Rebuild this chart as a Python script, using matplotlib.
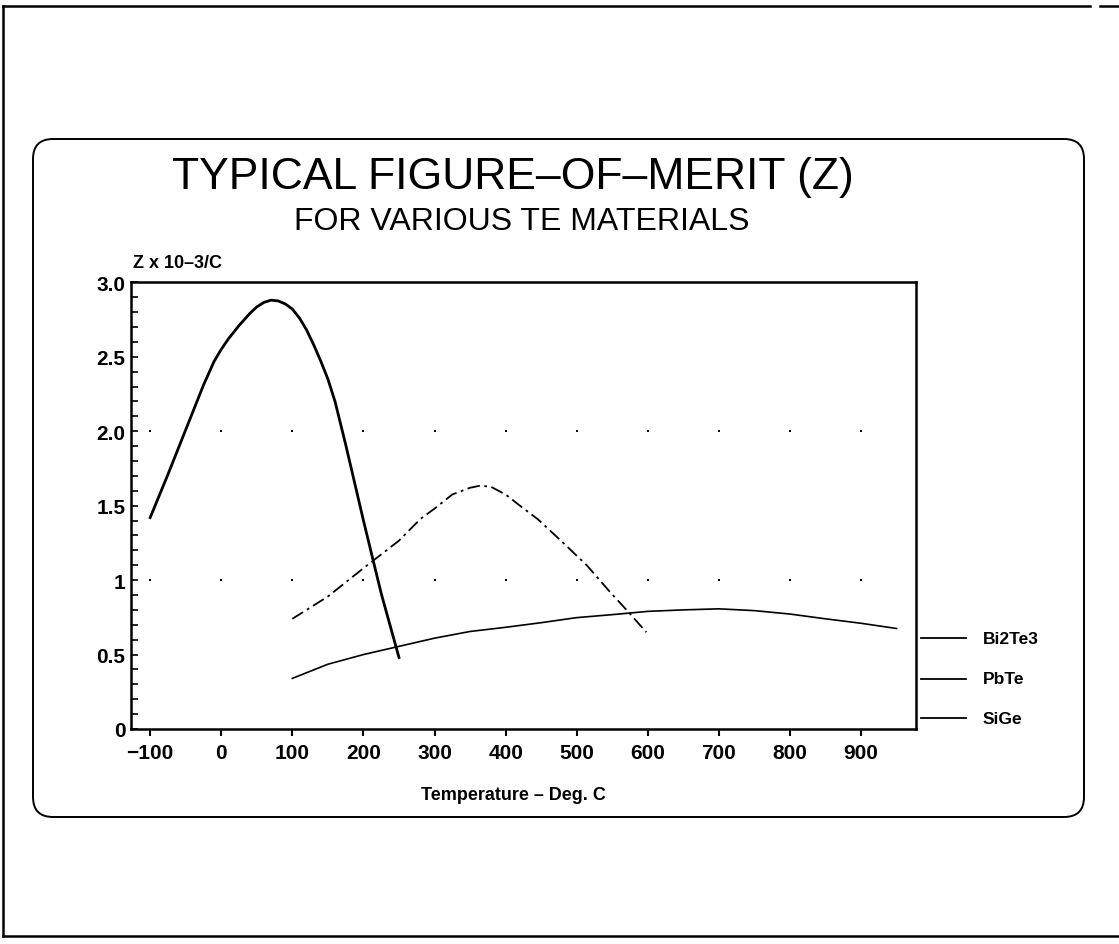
import matplotlib
matplotlib.use("Agg")
import matplotlib.pyplot as plt
import matplotlib.patches as mpatches
from matplotlib.lines import Line2D

# ---------------- data ----------------
bi2te3_x = [-100, -75, -50, -25, -10, 0, 10, 25, 40, 50, 60, 70, 80, 90, 100, 110, 120, 130, 140,
            150, 160, 175, 200, 225, 250]
bi2te3_y = [1.42, 1.71, 2.01, 2.31, 2.47, 2.55, 2.62, 2.71, 2.79, 2.835, 2.865, 2.88, 2.875, 2.855,
            2.82, 2.76, 2.68, 2.58, 2.47, 2.35, 2.20, 1.91, 1.40, 0.91, 0.48]

pbte_x = [100, 150, 200, 250, 280, 300, 325, 350, 365, 380, 400, 420, 445, 480, 515, 545, 570, 598]
pbte_y = [0.74, 0.89, 1.08, 1.265, 1.41, 1.48, 1.575, 1.62, 1.635, 1.625, 1.575, 1.50, 1.41, 1.255,
          1.095, 0.93, 0.80, 0.65]

sige_x = [100, 150, 200, 250, 300, 350, 400, 450, 500, 550, 600, 650, 700, 750, 800, 850, 900, 950]
sige_y = [0.34, 0.435, 0.50, 0.555, 0.61, 0.655, 0.683, 0.714, 0.748, 0.768, 0.79, 0.80, 0.807,
          0.795, 0.772, 0.74, 0.71, 0.675]

series_names = ["Bi2Te3", "PbTe", "SiGe"]
x_ticks = [-100, 0, 100, 200, 300, 400, 500, 600, 700, 800, 900]
x_tick_labels = ["\u2212100", "0", "100", "200", "300", "400", "500", "600", "700", "800", "900"]
y_ticks = [0, 0.5, 1.0, 1.5, 2.0, 2.5, 3.0]
y_tick_labels = ["0", "0.5", "1", "1.5", "2.0", "2.5", "3.0"]
grid_y = [1.0, 2.0]

title = "TYPICAL FIGURE\u2013OF\u2013MERIT (Z)"
subtitle = "FOR VARIOUS TE MATERIALS"
y_label = "Z x 10\u20133/C"
x_label = "Temperature \u2013 Deg. C"

# ---------------- fonts ----------------
plt.rcParams["font.family"] = ["Liberation Sans", "DejaVu Sans"]

W, H = 1119, 945
fig = plt.figure(figsize=(W / 100, H / 100), dpi=100)
fig.patch.set_facecolor("white")


def fline(x0, y0, x1, y1, lw=1.8):
    fig.add_artist(Line2D([x0 / 100, x1 / 100], [(H - y0) / 100, (H - y1) / 100],
                          transform=fig.dpi_scale_trans, color="black", lw=lw))


# outer page frame (left, top, bottom lines)
fline(3, 7, 3, 937)
fline(3, 7, 1090, 7)
fline(1100, 7, 1119, 7)
fline(3, 937, 1119, 937)

# rounded inner box
box = mpatches.FancyBboxPatch((33 / 100, (H - 818) / 100), (1084 - 33) / 100, (818 - 140) / 100,
                              boxstyle="round,pad=0,rounding_size=0.2",
                              transform=fig.dpi_scale_trans, fill=False,
                              edgecolor="black", lw=1.4)
fig.add_artist(box)

# ---------------- axes ----------------
ax = fig.add_axes([131 / W, 1 - 730 / H, (915.8 - 131) / W, (730 - 283.3) / H])
ax.set_xlim(-127, 977)
ax.set_ylim(0, 3.0)

ax.plot(bi2te3_x, bi2te3_y, color="black", lw=2.0, solid_joinstyle="round")
ax.plot(pbte_x, pbte_y, color="black", lw=1.3, dashes=(7, 2.5, 1.5, 2.5))
ax.plot(sige_x, sige_y, color="black", lw=1.2, solid_joinstyle="round")

# dotted grid
gx, gy = [], []
for yv in grid_y:
    for xv in x_ticks:
        gx.append(xv)
        gy.append(yv)
ax.scatter(gx, gy, s=4, color="black", marker="s", linewidths=0)

for sp in ax.spines.values():
    sp.set_linewidth(1.8)

ax.set_xticks(x_ticks)
ax.set_xticklabels(x_tick_labels)
ax.set_yticks(y_ticks)
ax.set_yticklabels(y_tick_labels)
ax.set_yticks([i / 10 for i in range(31)], minor=True)
ax.tick_params(axis="x", direction="out", length=5, width=1.5, pad=5, labelsize=15)
ax.tick_params(axis="y", which="both", direction="in", length=5, width=1.2, pad=4, labelsize=15)
for lab in ax.get_xticklabels() + ax.get_yticklabels():
    lab.set_fontweight("bold")

ax.text(0.003, 1.025, y_label, transform=ax.transAxes, ha="left", va="bottom",
        fontsize=13, fontweight="bold")

# titles
fig.text(513 / W, 1 - 178 / H, title, ha="center", va="center", fontsize=32)
fig.text(522 / W, 1 - 222 / H, subtitle, ha="center", va="center", fontsize=23)
fig.text(513 / W, 1 - 796 / H, x_label, ha="center", va="center", fontsize=13, fontweight="bold")

# legend (manual, in figure pixels)
leg_y = [639, 680, 719]
for name, ly in zip(series_names, leg_y):
    fline(921, ly, 966, ly, lw=1.3)
    fig.text(983 / W, 1 - ly / H, name, ha="left", va="center", fontsize=12.5, fontweight="bold")

fig.savefig("out.png", dpi=100, facecolor="white")
